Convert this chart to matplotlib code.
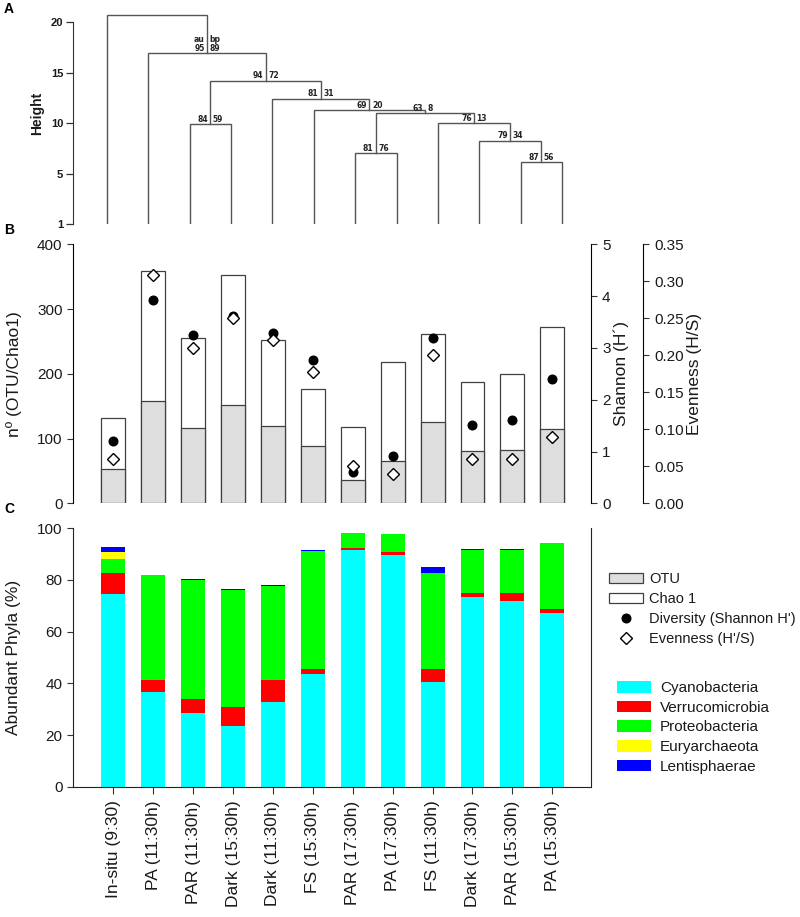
import matplotlib
matplotlib.use('Agg')
import matplotlib.pyplot as plt
from matplotlib.patches import Patch
from matplotlib.lines import Line2D
import numpy as np

plt.rcParams['font.family'] = ['Liberation Sans', 'DejaVu Sans']

W, H = 800, 917

samples = ['In-situ (9:30)', 'PA (11:30h)', 'PAR (11:30h)', 'Dark (15:30h)',
           'Dark (11:30h)', 'FS (15:30h)', 'PAR (17:30h)', 'PA (17:30h)',
           'FS (11:30h)', 'Dark (17:30h)', 'PAR (15:30h)', 'PA (15:30h)']

# panel A: pvclust dendrogram (leaves 0..11 in plotting order, N<k> = k-th merge)
merge_left = ['L2', 'L6', 'L10', 'L9', 'L8', 'N1', 'L5', 'L4', 'N0', 'L1', 'L0']
merge_right = ['L3', 'L7', 'L11', 'N2', 'N3', 'N4', 'N5', 'N6', 'N7', 'N8', 'N9']
merge_height = [9.9, 7.0, 6.1, 8.25, 10.0, 11.0, 11.3, 12.4, 14.2, 16.9, 20.7]
au_values = [84, 81, 87, 79, 76, 63, 69, 81, 94, 95, None]
bp_values = [59, 76, 56, 34, 13, 8, 20, 31, 72, 89, None]
height_ticks = [0, 5, 10, 15, 20]
height_labels = ['1', '5', '10', '15', '20']

# panel B: richness / diversity
otu = [53.6, 157.7, 116, 152, 120, 88, 36, 66, 126, 81, 82, 114]
chao1 = [132.5, 358.8, 254.7, 352, 252, 175.8, 117.5, 217.5, 261.9, 187, 199, 273]
shannon = [1.20, 3.93, 3.24, 3.61, 3.28, 2.76, 0.60, 0.92, 3.20, 1.51, 1.60, 2.40]
evenness = [0.060, 0.309, 0.210, 0.250, 0.220, 0.178, 0.050, 0.039, 0.200, 0.060, 0.060, 0.090]

# panel C: abundant phyla (%)
phyla = ['Cyanobacteria', 'Verrucomicrobia', 'Proteobacteria', 'Euryarchaeota', 'Lentisphaerae']
phyla_colors = ['#00ffff', '#ff0000', '#00ff00', '#ffff00', '#0000ff']
cyanobacteria = [74.7, 36.8, 28.4, 23.6, 32.9, 43.5, 91.7, 89.5, 40.4, 73.4, 71.8, 67.1]
verrucomicrobia = [8.1, 4.5, 5.6, 7.4, 8.2, 2.1, 0.8, 1.5, 5.3, 1.7, 3.3, 1.8]
proteobacteria = [5.2, 40.7, 45.8, 45.3, 36.5, 45.6, 5.7, 6.8, 37.0, 16.5, 16.6, 25.4]
euryarchaeota = [2.9, 0, 0, 0, 0, 0, 0, 0, 0, 0, 0, 0]
lentisphaerae = [1.9, 0.1, 0.4, 0.4, 0.4, 0.4, 0, 0, 2.2, 0.2, 0.4, 0]


def box(x0, y0, x1, y1):
    return [x0 / W, 1 - y1 / H, (x1 - x0) / W, (y1 - y0) / H]


fig = plt.figure(figsize=(W / 100, H / 100), dpi=100)
txt = '#1a1a1a'
line_col = '#555555'

# ---------------- A ----------------
axA = fig.add_axes(box(73, 12, 591, 224))
pos = {f'L{i}': (float(i), 0.0) for i in range(len(samples))}
for k in range(len(merge_left)):
    xl, hl = pos[merge_left[k]]
    xr, hr = pos[merge_right[k]]
    h = merge_height[k]
    axA.plot([xl, xl, xr, xr], [hl, h, h, hr], color=line_col, lw=1.0,
             solid_joinstyle='miter')
    xm = (xl + xr) / 2
    pos[f'N{k}'] = (xm, h)
    if au_values[k] is not None:
        kw = dict(textcoords='offset points', va='bottom', fontsize=5.5,
                  fontweight='bold', color='#222222', family='DejaVu Sans')
        axA.annotate(str(au_values[k]), (xm, h), xytext=(-1.8, 0.3), ha='right', **kw)
        axA.annotate(str(bp_values[k]), (xm, h), xytext=(1.8, 0.3), ha='left', **kw)
        if k == 9:
            axA.annotate('au', (xm, h), xytext=(-1.8, 7.0), ha='right', **kw)
            axA.annotate('bp', (xm, h), xytext=(1.8, 7.0), ha='left', **kw)
axA.set_xlim(-0.822, 11.70)
axA.set_ylim(0, 21)
for s in ['top', 'right', 'bottom']:
    axA.spines[s].set_visible(False)
axA.spines['left'].set_bounds(0, 20)
axA.spines['left'].set_color('#333333')
axA.set_xticks([])
axA.set_yticks(height_ticks)
axA.set_yticklabels(height_labels, fontweight='bold')
axA.tick_params(axis='y', length=5, width=0.9, labelsize=8, pad=2, colors='#333333',
                labelcolor=txt)
axA.set_ylabel('Height', fontsize=10, fontweight='bold', color=txt)
axA.yaxis.set_label_coords(-0.056, 0.52)

# ---------------- B ----------------
x = np.arange(len(samples))
axB = fig.add_axes(box(73, 244.3, 591, 503.3))
axB.bar(x, chao1, width=0.6, color='white', edgecolor='#404040', lw=0.9, zorder=2)
axB.bar(x, otu, width=0.6, color='#dedede', edgecolor='#404040', lw=0.9, zorder=3)
axB.set_xlim(-1.01, 11.97)
axB.set_ylim(0, 400)
for s in ['top', 'right', 'bottom']:
    axB.spines[s].set_visible(False)
axB.set_xticks([])
axB.set_yticks([0, 100, 200, 300, 400])
axB.tick_params(axis='y', length=4, labelsize=11, colors='#333333', labelcolor=txt)
axB.set_ylabel('nº (OTU/Chao1)', fontsize=12.5, color=txt)
axB.yaxis.set_label_coords(-0.0985, 0.5)

axS = axB.twinx()
axS.plot(x, shannon, 'o', color='black', ms=6.2, zorder=5)
axS.set_ylim(0, 5)
axS.set_yticks([0, 1, 2, 3, 4, 5])
for s in ['top', 'left', 'bottom']:
    axS.spines[s].set_visible(False)
axS.tick_params(axis='y', length=4, labelsize=11, pad=4, colors='#333333', labelcolor=txt)
axS.set_ylabel('Shannon (H´)', fontsize=12.5, color=txt)
axS.yaxis.set_label_coords(1.0425, 0.5)

axE = axB.twinx()
axE.plot(x, evenness, 'D', mfc='white', mec='black', mew=1.0, ms=6.0, zorder=6)
axE.set_ylim(0, 0.35)
axE.set_yticks([0, 0.05, 0.10, 0.15, 0.20, 0.25, 0.30, 0.35])
axE.set_yticklabels(['0.00', '0.05', '0.10', '0.15', '0.20', '0.25', '0.30', '0.35'])
for s in ['top', 'left', 'bottom']:
    axE.spines[s].set_visible(False)
axE.spines['right'].set_position(('axes', 1.1004))
axE.tick_params(axis='y', length=4, labelsize=11, pad=4, colors='#333333', labelcolor=txt)
axE.set_ylabel('Evenness (H/S)', fontsize=12.5, color=txt)
axE.yaxis.set_label_coords(1.185, 0.5)

# ---------------- C ----------------
axC = fig.add_axes(box(73, 528.3, 591, 786.7))
stack = [cyanobacteria, verrucomicrobia, proteobacteria, euryarchaeota, lentisphaerae]
bottom = np.zeros(len(samples))
for vals, col in zip(stack, phyla_colors):
    axC.bar(x, vals, bottom=bottom, width=0.6, color=col, lw=0)
    bottom += np.array(vals)
axC.set_xlim(-1.01, 11.97)
axC.set_ylim(0, 100)
axC.spines['top'].set_visible(False)
for s in ['left', 'right', 'bottom']:
    axC.spines[s].set_color('#222222')
axC.spines['left'].set_bounds(0, 100)
axC.set_xticks(x)
axC.set_xticklabels(samples, rotation=90, fontsize=12.5, color=txt)
axC.set_yticks([0, 20, 40, 60, 80, 100])
axC.tick_params(axis='y', length=4, labelsize=11, colors='#333333', labelcolor=txt)
axC.tick_params(axis='x', length=5, pad=5, colors='#333333', labelcolor=txt)
axC.set_ylabel('Abundant Phyla (%)', fontsize=12.5, color=txt)
axC.yaxis.set_label_coords(-0.1004, 0.5)

# panel letters
fig.text(9 / W, 1 - 9 / H, 'A', fontsize=10, fontweight='bold', ha='center', va='center')
fig.text(9 / W, 1 - 229.5 / H, 'B', fontsize=10, fontweight='bold', ha='center', va='center')
fig.text(9 / W, 1 - 509 / H, 'C', fontsize=10, fontweight='bold', ha='center', va='center')

# legends
h1 = [Patch(facecolor='#dedede', edgecolor='#404040', lw=0.9),
      Patch(facecolor='white', edgecolor='#404040', lw=0.9),
      Line2D([], [], ls='', marker='o', color='black', ms=6.2),
      Line2D([], [], ls='', marker='D', mfc='white', mec='black', ms=6.0)]
l1 = ['OTU', 'Chao 1', "Diversity (Shannon H')", "Evenness (H'/S)"]
leg1 = fig.legend(h1, l1, loc='upper left', bbox_to_anchor=(609 / W, 1 - 572 / H),
                  frameon=False, fontsize=10.5, handlelength=2.3, handleheight=0.75,
                  handletextpad=0.45, labelspacing=0.42, borderpad=0, borderaxespad=0)
h2 = [Patch(facecolor=c, edgecolor='none') for c in phyla_colors]
leg2 = fig.legend(h2, phyla, loc='upper left', bbox_to_anchor=(617 / W, 1 - 681 / H),
                  frameon=False, fontsize=11, handlelength=2.25, handleheight=0.8,
                  handletextpad=0.55, labelspacing=0.36, borderpad=0, borderaxespad=0)
for t in leg1.get_texts() + leg2.get_texts():
    t.set_color(txt)

fig.savefig('out.png', dpi=100)
